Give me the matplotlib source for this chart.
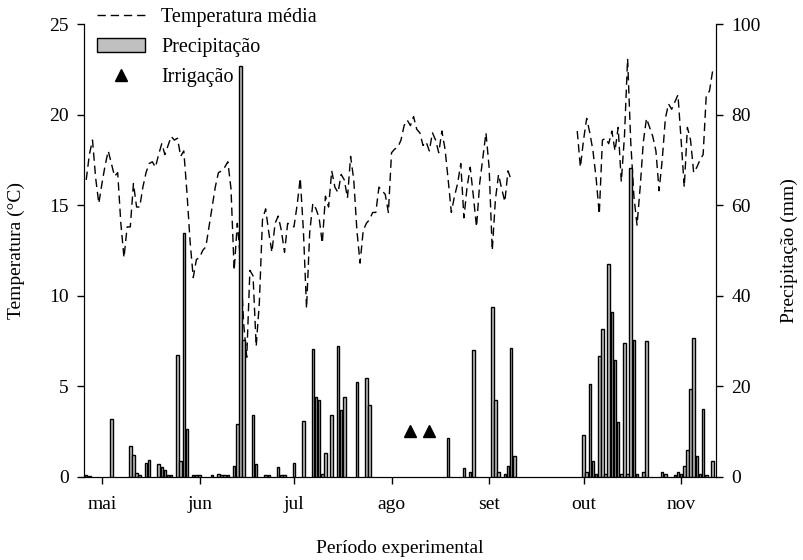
import pandas as pd
import matplotlib
matplotlib.use("Agg")
import matplotlib.pyplot as plt

plt.rcParams['font.family'] = ['Liberation Serif', 'DejaVu Serif']
plt.rcParams['font.size'] = 14

ref = pd.Timestamp("2009-05-01")

# daily mean temperature (C), block 1 from 26 apr, block 2 from 29 sep
temp1_start = "2009-04-26"
temp1 = [16.4, 17.8, 18.6, 16.5, 15.1, 16.2, 17.2, 18.0, 17.3, 16.6,
         16.8, 14.0, 12.1, 13.8, 13.8, 16.2, 14.9, 14.9, 16.0, 16.8,
         17.3, 17.4, 17.1, 17.8, 18.4, 17.8, 18.3, 18.8, 18.6, 18.7,
         17.7, 18.0, 15.7, 13.0, 11.0, 12.0, 12.1, 12.5, 12.7, 13.8,
         14.9, 16.0, 16.8, 16.9, 17.1, 17.4, 15.9, 11.4, 14.0, 12.0,
         8.5, 6.6, 11.4, 11.1, 7.2, 9.6, 14.2, 14.8, 13.5, 12.4,
         14.0, 14.4, 13.6, 12.4, 14.0, 13.9, 13.8, 15.0, 16.5, 13.6,
         9.3, 13.5, 15.1, 14.8, 14.3, 12.9, 15.5, 14.9, 16.9, 16.0,
         15.7, 16.7, 16.4, 15.4, 17.7, 16.4, 13.6, 11.8, 13.6, 14.0,
         14.2, 14.6, 14.6, 16.0, 15.8, 15.6, 14.6, 17.9, 18.1, 18.2,
         18.6, 19.4, 19.7, 19.4, 19.9, 19.2, 19.0, 18.3, 18.5, 18.0,
         19.0, 18.6, 17.9, 19.1, 18.1, 16.4, 14.6, 15.5, 16.2, 17.3,
         14.3, 16.0, 17.1, 15.5, 13.8, 16.2, 17.6, 19.0, 17.1, 12.5,
         15.3, 16.7, 15.9, 15.2, 16.9, 16.4]
temp2_start = "2009-09-29"
temp2 = [19.1, 17.1, 18.6, 19.8, 19.0, 18.0, 16.5, 14.5, 18.6, 18.7,
         18.4, 19.1, 18.0, 19.3, 16.3, 18.8, 23.1, 18.5, 15.5, 13.9,
         16.0, 18.5, 19.8, 19.3, 18.8, 18.0, 15.8, 17.5, 19.8, 20.6,
         20.3, 20.7, 21.1, 18.6, 16.0, 19.3, 18.6, 16.8, 17.1, 17.5,
         17.8, 21.1, 21.3, 22.4]

# rainfall (mm), day counted from 1 may
rain_day = [-5, -4, 3, 9, 10, 11, 12, 14, 15, 18, 19, 20, 21, 22, 24, 25, 26, 27,
            29, 30, 31, 35, 37, 38, 39, 40, 42, 43, 44, 45, 48, 49, 52, 53, 56, 57,
            58, 61, 64, 67, 68, 69, 70, 71, 73, 75, 76, 77, 81, 84, 85,
            110, 115, 117, 118, 124, 125, 126, 128, 129, 130, 131,
            153, 154, 155, 156, 157, 158, 159, 160, 161, 162, 163, 164, 165, 166,
            167, 168, 169, 170, 172, 173, 178, 179, 182, 183, 184, 185, 186, 187,
            188, 189, 190, 191, 192, 194]
rain_mm = [0.3, 0.2, 12.8, 6.8, 4.9, 0.8, 0.3, 3.0, 3.6, 2.7, 2.1, 1.4, 0.3, 0.3, 27.0, 3.4, 53.8, 10.6,
           0.3, 0.3, 0.3, 0.3, 0.5, 0.3, 0.3, 0.3, 2.3, 11.7, 90.7, 30.1, 13.7, 2.9, 0.3, 0.3, 2.1, 0.3,
           0.3, 3.0, 12.4, 28.3, 17.7, 17.0, 0.5, 5.2, 13.7, 28.8, 14.8, 17.7, 20.9, 21.8, 15.8,
           8.5, 1.9, 1.0, 28.1, 37.5, 17.0, 1.0, 0.5, 2.3, 28.4, 4.5,
           9.3, 1.0, 20.5, 3.5, 0.5, 26.7, 32.6, 0.6, 47.1, 36.4, 25.7, 12.1, 0.5, 29.5,
           0.6, 68.2, 30.3, 0.6, 1.0, 29.9, 1.0, 0.6, 0.4, 1.1, 0.7, 2.4, 5.8, 19.3,
           30.7, 4.6, 0.6, 15.0, 0.4, 3.4]

# irrigation events
irrig_dates = ["2009-08-07", "2009-08-13"]
irrig_level = [2.5, 2.5]

months = ["mai", "jun", "jul", "ago", "set", "out", "nov"]
month_starts = pd.date_range("2009-05-01", periods=7, freq="MS")

t1 = pd.Series(temp1, index=pd.date_range(temp1_start, periods=len(temp1)))
t2 = pd.Series(temp2, index=pd.date_range(temp2_start, periods=len(temp2)))
rain_dates = ref + pd.to_timedelta(rain_day, unit="D")

fig = plt.figure(figsize=(8.04, 5.6), dpi=100)
ax = fig.add_axes([0.1045, 0.1488, 0.7861, 0.8079])
ax2 = ax.twinx()

dash = (6, 3.5)
line, = ax.plot(t1.index, t1.values, color="black", lw=1, dashes=dash)
ax.plot(t2.index, t2.values, color="black", lw=1, dashes=dash)
tri, = ax.plot(pd.to_datetime(irrig_dates), irrig_level, ls="none", marker="^",
               color="black", markersize=8)

bars = ax2.bar(rain_dates, rain_mm, width=0.8, color="#c0c0c0",
               edgecolor="black", linewidth=1.0)

ax.set_ylim(0, 25)
ax2.set_ylim(0, 100)
ax.set_yticks([0, 5, 10, 15, 20, 25])
ax2.set_yticks([0, 20, 40, 60, 80, 100])
ax.set_xlim(ref - pd.Timedelta(days=5.7), ref + pd.Timedelta(days=195.1))
ax.set_xticks(month_starts)
ax.set_xticklabels(months)

for a in (ax, ax2):
    a.spines["top"].set_visible(False)
    a.tick_params(direction="out", length=5, width=1, pad=6)
ax.tick_params(axis="x", pad=9)

ax.set_ylabel("Temperatura (°C)")
ax.yaxis.set_label_coords(-0.094, 0.5)
ax2.set_ylabel("Precipitação (mm)")
ax2.yaxis.set_label_coords(1.103, 0.5)
ax.set_xlabel("Período experimental")
ax.xaxis.set_label_coords(0.5, -0.14)

ax2.legend([line, bars, tri], ["Temperatura média", "Precipitação", "Irrigação"],
           loc="upper left", bbox_to_anchor=(0.1206, 0.986),
           bbox_transform=fig.transFigure, frameon=False, borderpad=0,
           borderaxespad=0, handlelength=2.4, handletextpad=0.8,
           labelspacing=0.55, prop={"size": 14.5})

fig.savefig("out.png", dpi=100)
